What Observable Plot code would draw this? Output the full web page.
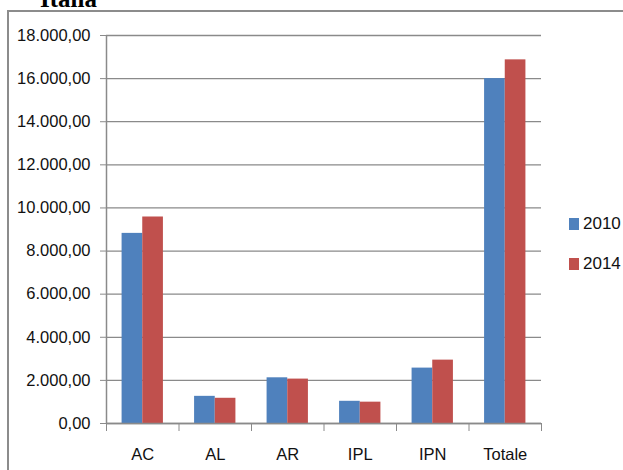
<!DOCTYPE html>
<html><head><meta charset="utf-8">
<script src="https://cdn.jsdelivr.net/npm/d3@7"></script>
<script src="https://cdn.jsdelivr.net/npm/@observablehq/plot@0.6"></script>
<style>
body{margin:0;background:#fff;overflow:hidden}
#wrap{position:relative;width:623px;height:470px;overflow:hidden;background:#fff}
#frame{position:absolute;left:7px;top:10px;width:660px;height:500px;border:2px solid #8c8c8c;box-sizing:border-box}
#title{position:absolute;left:40px;top:-14px;font:bold 25px "Liberation Serif","Times New Roman",serif;line-height:25px;white-space:nowrap}
#chart{position:absolute;left:0;top:0}
#legend{position:absolute;left:569px;top:215px;font:17px "Liberation Sans Narrow","Arial Narrow","Liberation Sans",sans-serif;color:#111}
.item{display:flex;align-items:center;height:18px;margin-bottom:22px}
.sw{width:10px;height:12px;margin-right:4px}
</style></head>
<body>
<div id="wrap">
  <div id="frame"></div>
  <div id="title">Italia</div>
  <div id="chart"></div>
  <div id="legend"></div>
</div>
<script>
const categories = ["AC", "AL", "AR", "IPL", "IPN", "Totale"];
const years = ["2010", "2014"];
const values2010 = [8820, 1260, 2120, 1030, 2570, 16000];
const values2014 = [9580, 1170, 2060, 990, 2940, 16870];
const yTicks = [0, 2000, 4000, 6000, 8000, 10000, 12000, 14000, 16000, 18000];
const colors = ["#4F81BD", "#C0504D"];

const barW = 0.285;
const fontFam = '"Liberation Sans Narrow","Arial Narrow","Liberation Sans",sans-serif';
const itFmt = d3.formatLocale({decimal: ",", thousands: ".", grouping: [3], currency: ["€", ""]}).format(",.2f");

const rows = [];
categories.forEach((c, i) => {
  rows.push({cat: c, idx: i, year: years[0], value: values2010[i]});
  rows.push({cat: c, idx: i, year: years[1], value: values2014[i]});
});
const centers = categories.map((c, i) => i);
const bounds = [-0.5, ...categories.map((c, i) => i + 0.5)];

const chart = Plot.plot({
  width: 623,
  height: 470,
  marginLeft: 106,
  marginRight: 82,
  marginTop: 35,
  marginBottom: 47,
  style: {fontFamily: fontFam, fontSize: "16.5px", color: "#111", background: "transparent"},
  x: {type: "linear", domain: [-0.5, categories.length - 0.5], label: null},
  y: {domain: [0, 18000], label: null},
  color: {domain: years, range: colors},
  marks: [
    Plot.ruleY(yTicks, {stroke: "#8a8a8a", strokeWidth: 1.3}),
    Plot.rect(rows, {
      x1: d => d.year === years[0] ? d.idx - barW : d.idx,
      x2: d => d.year === years[0] ? d.idx : d.idx + barW,
      y1: 0,
      y2: "value",
      fill: "year"
    }),
    Plot.ruleX([-0.5], {y1: 0, y2: 18000, stroke: "#8a8a8a", strokeWidth: 1.5}),
    Plot.ruleY([0], {stroke: "#8a8a8a", strokeWidth: 1.5}),
    Plot.axisY({ticks: yTicks, tickSize: 6, tickPadding: 10, tickFormat: itFmt, label: null, stroke: "#8a8a8a", fill: "#111", fontSize: 16.5}),
    Plot.axisX({ticks: bounds, tickSize: 8, tickFormat: () => "", label: null, stroke: "#8a8a8a"}),
    Plot.axisX({ticks: centers, tickSize: 0, tickPadding: 25, tickFormat: i => categories[i], label: null, fill: "#111", fontSize: 16.5})
  ]
});
document.getElementById("chart").appendChild(chart);

const legend = document.getElementById("legend");
years.forEach((y, i) => {
  const item = document.createElement("div");
  item.className = "item";
  const sw = document.createElement("span");
  sw.className = "sw";
  sw.style.background = colors[i];
  const t = document.createElement("span");
  t.textContent = y;
  item.appendChild(sw);
  item.appendChild(t);
  legend.appendChild(item);
});
</script>
</body></html>
